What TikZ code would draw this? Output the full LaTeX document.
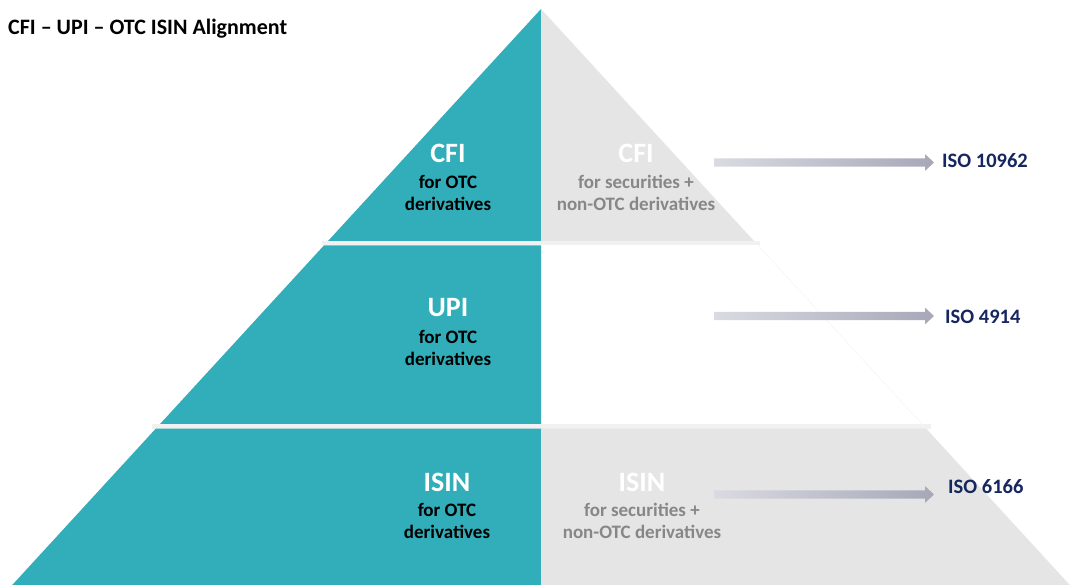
\documentclass[tikz,border=0pt]{standalone}
\usepackage{fontspec}
\setmainfont{Carlito}
\definecolor{tealc}{RGB}{49,174,185}
\definecolor{bandgray}{RGB}{229,229,229}
\definecolor{stripgray}{RGB}{241,241,241}
\definecolor{edgegray}{RGB}{246,246,246}
\definecolor{txtgray}{RGB}{135,135,135}
\definecolor{navy}{RGB}{22,38,95}
\definecolor{arrowL}{RGB}{218,218,226}
\definecolor{arrowR}{RGB}{166,168,184}
\tikzset{
  big/.style={font=\fontsize{28}{30}\selectfont\bfseries, anchor=base},
  small/.style={font=\fontsize{19}{21}\selectfont\bfseries, anchor=base},
  isolabel/.style={font=\fontsize{20.5}{22}\selectfont\bfseries, text=navy, anchor=base west, inner sep=0pt},
  arrowfill/.style={left color=arrowL, right color=arrowR, draw=none}
}
% block arrow between two named coordinates on one horizontal line
\newcommand\blockarrow[2]{%
  \shade[arrowfill] ([yshift=4.2pt]#1) -- ([xshift=-9pt,yshift=4.2pt]#2) -- ([xshift=-9pt,yshift=8.4pt]#2) -- (#2)
     -- ([xshift=-9pt,yshift=-8.4pt]#2) -- ([xshift=-9pt,yshift=-4.2pt]#2) -- ([yshift=-4.2pt]#1) -- cycle;}
\begin{document}
\begin{tikzpicture}[x=1pt,y=-1pt]
\useasboundingbox (0,0) rectangle (1073,585);
\fill[white] (0,0) rectangle (1073,585);
% top band
\fill[tealc] (541,9) -- (541,241) -- ({541-0.918*232},241) -- cycle;
\fill[bandgray] (541,9) -- (541,241) -- ({541+0.918*232},241) -- cycle;
% strip 1
\fill[stripgray] (322,241) rectangle (760,245.5);
% middle band
\fill[tealc] ({541-0.918*236.5},245.5) -- (541,245.5) -- (541,424) -- ({541-0.918*415},424) -- cycle;
\draw[edgegray, line width=0.6pt] ({541+0.918*236.5},245.5) -- ({541+0.918*415},424);
% strip 2
\fill[stripgray] (152,424) rectangle (931,428.5);
% bottom band
\fill[tealc] ({541-0.918*419.5},428.5) -- (541,428.5) -- (541,585) -- ({541-0.918*576},585) -- cycle;
\fill[bandgray] (541,428.5) -- ({541+0.918*419.5},428.5) -- ({541+0.918*576},585) -- (541,585) -- cycle;
% title
\node[font=\fontsize{22}{24}\selectfont\bfseries, anchor=base west, inner sep=0pt] (title) at (8,35) {CFI – UPI – OTC ISIN Alignment};
% CFI row
\node[big, text=white] (cfiL) at (448,163) {CFI};
\node[small] (cfiL1) at (448,188.5) {for OTC};
\node[small] (cfiL2) at (448,210.5) {derivatives};
\node[big, text=white] (cfiR) at (636,163) {CFI};
\node[small, text=txtgray] (cfiR1) at (636,188.5) {for securities +};
\node[small, text=txtgray] (cfiR2) at (636,210.5) {non-OTC derivatives};
% UPI row
\node[big, text=white] (upiL) at (448,316.5) {UPI};
\node[small] (upiL1) at (448,343) {for OTC};
\node[small] (upiL2) at (448,365) {derivatives};
% ISIN row
\node[big, text=white] (isinL) at (447,491) {ISIN};
\node[small] (isinL1) at (447,516) {for OTC};
\node[small] (isinL2) at (447,538) {derivatives};
\node[big, text=white] (isinR) at (642,491) {ISIN};
\node[small, text=txtgray] (isinR1) at (642,516) {for securities +};
\node[small, text=txtgray] (isinR2) at (642,538) {non-OTC derivatives};
% ISO labels
\node[isolabel] (iso1) at (942,167.3) {ISO 10962};
\node[isolabel] (iso2) at (945,323.3) {ISO 4914};
\node[isolabel] (iso3) at (948,493.3) {ISO 6166};
% arrows
\coordinate (a1s) at (714,162.5); \coordinate (a1e) at (934,162.5);
\coordinate (a2s) at (714,316);   \coordinate (a2e) at (934,316);
\coordinate (a3s) at (714,494.5); \coordinate (a3e) at (934,494.5);
\blockarrow{a1s}{a1e}
\blockarrow{a2s}{a2e}
\blockarrow{a3s}{a3e}
\end{tikzpicture}
\end{document}
